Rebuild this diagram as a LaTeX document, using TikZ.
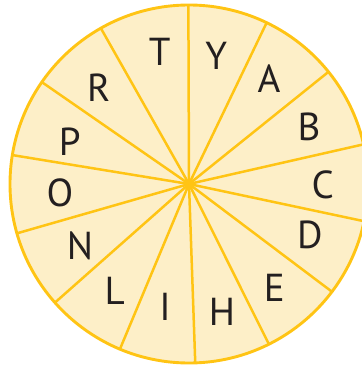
\documentclass[tikz,border=0pt]{standalone}
\usepackage{fontspec}
\setmainfont{PT Sans}
\usetikzlibrary{calc}
\definecolor{rimyellow}{HTML}{FFC414}
\definecolor{wedgefill}{HTML}{FDEFC8}
\definecolor{lettergray}{HTML}{231F20}
\tikzset{
  rim/.style={draw=rimyellow, line width=2.9bp},
  spoke/.style={draw=rimyellow, line width=2.5bp},
  letter/.style={inner sep=0pt, text=lettergray, font=\fontsize{39bp}{40bp}\selectfont}
}
\begin{document}
\begin{tikzpicture}[x=1bp,y=1bp]
\useasboundingbox (0,0) rectangle (362,365);
\clip (0,0) rectangle (362,365);
\coordinate (c) at (189,181);
\fill[wedgefill] (c) circle[radius=179bp];
\foreach \a [count=\i] in {90.2,64.3,38.8,12.8,-12,-37,-63.5,-88,-112.7,221.5,196,170.7,145.3,119.5}{
  \coordinate (r\i) at ($(c)+(\a:179bp)$);
  \draw[spoke] (c) -- (r\i);
}
\draw[rim] (c) circle[radius=179bp];
\node[letter] (t) at (159.7,313) {T};
\node[letter] (y) at (216.3,309.3) {Y};
\node[letter] (a) at (269,286.3) {A};
\node[letter] (b) at (309,238.3) {B};
\node[letter] (cc) at (322.7,180) {C};
\node[letter] (d) at (310,130) {D};
\node[letter] (e) at (274.4,77.5) {E};
\node[letter] (h) at (222,53.3) {H};
\node[letter] (i) at (165,58) {I};
\node[letter] (l) at (114.7,74.2) {L};
\node[letter] (n) at (80,119.2) {N};
\node[letter] (o) at (60,171.7) {O};
\node[letter] (p) at (69.7,223.3) {P};
\node[letter] (r) at (98.7,277.5) {R};
\end{tikzpicture}
\end{document}
